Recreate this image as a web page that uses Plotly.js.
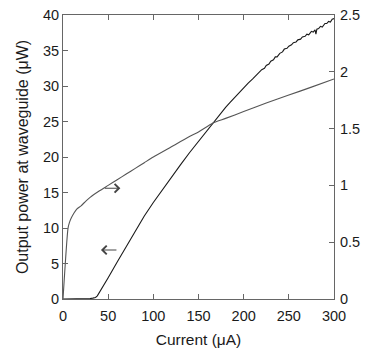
<!DOCTYPE html>
<html><head><meta charset="utf-8">
<script src="https://cdn.plot.ly/plotly-3.0.1.min.js"></script>
<style>html,body{margin:0;padding:0;background:#fff}#chart{width:369px;height:358px}</style>
</head><body><div id="chart"></div>
<script>
// Output power (left axis, µW) vs current (µA)
var powerCurrent = [0,10,20,25,30,33,36,38,40,42,45,50,60,70,80,90,100,110,120,130,140,150,160,170,180,185,190,195,200,205,210,213,215,218,220,223,225,228,230,233,235,237,240,243,245,248,250,253,255,258,260,263,265,268,270,272,275,277,279,280,281,283,285,287,290,292,294,296,298,300];
var powerValues  = [0,0,0,0.02,0.06,0.12,0.22,0.45,0.85,1.25,1.95,3.0,5.2,7.4,9.6,11.7,13.6,15.4,17.2,18.9,20.6,22.2,23.9,25.5,27.0,27.7,28.4,29.1,29.8,30.4,31.0,31.4,31.7,32.0,32.3,32.5,32.9,33.1,33.5,33.7,34.1,34.1,34.6,34.8,35.2,35.3,35.6,35.8,36.1,36.2,36.5,36.6,36.9,37.0,37.3,37.2,37.7,37.6,37.9,37.3,38.0,38.1,38.4,38.3,38.8,38.8,39.1,39.0,39.4,39.5];
// Second curve (right axis)
var rightCurrent = [0,5.5,7,9,12,15,20,25,30,40,50,60,70,80,90,100,120,140,150,166,180,200,225,250,275,300];
var rightValues  = [0,0.62,0.67,0.71,0.755,0.79,0.82,0.86,0.895,0.95,1.0,1.05,1.1,1.15,1.2,1.25,1.34,1.43,1.47,1.55,1.59,1.65,1.725,1.795,1.865,1.937];
var xTicks = [0,50,100,150,200,250,300];
var yLeftTicks = [0,5,10,15,20,25,30,35,40];
var yRightTicks = [0,0.5,1,1.5,2,2.5];

var fam = '"Liberation Sans", Arial, sans-serif';
var tickFnt = {family:fam, size:14.5, color:'#1a1a1a'};
var titleFnt = {family:fam, size:16, color:'#1a1a1a'};
var axBase = {showline:true, linecolor:'#666', linewidth:1, ticks:'inside', ticklen:5, tickcolor:'#666',
  showgrid:false, zeroline:false, tickfont:tickFnt};

var traces = [
  {x:powerCurrent, y:powerValues, type:'scatter', mode:'lines', line:{color:'#1a1a1a', width:1.1}, yaxis:'y'},
  {x:rightCurrent, y:rightValues, type:'scatter', mode:'lines', line:{color:'#555', width:1.1, shape:'spline', smoothing:0.6}, yaxis:'y2'}
];
var layout = {
  width:369, height:358, margin:{l:63, r:35, t:15, b:59},
  paper_bgcolor:'#fff', plot_bgcolor:'#fff', showlegend:false, font:tickFnt,
  xaxis:Object.assign({}, axBase, {range:[0,300], tickvals:xTicks, mirror:'ticks', ticklabelstandoff:4,
    title:{text:'Current (\u03bcA)', font:{family:fam, size:15.5, color:'#1a1a1a'}, standoff:10}}),
  yaxis:Object.assign({}, axBase, {range:[0,40], tickvals:yLeftTicks,
    title:{text:'Output power at waveguide (\u03bcW)', font:titleFnt, standoff:10}}),
  yaxis2:Object.assign({}, axBase, {range:[0,2.5], tickvals:yRightTicks, overlaying:'y', side:'right', ticklabelstandoff:2}),
  annotations:[
    {x:63.5, y:15.6, xref:'x', yref:'y', ax:-17, ay:0, showarrow:true, arrowhead:4, arrowsize:1.7, arrowwidth:1, arrowcolor:'#444', text:''},
    {x:42.0, y:6.9, xref:'x', yref:'y', ax:17, ay:0, showarrow:true, arrowhead:4, arrowsize:1.7, arrowwidth:1, arrowcolor:'#444', text:''}
  ]
};
Plotly.newPlot('chart', traces, layout, {staticPlot:true, displayModeBar:false});
</script></body></html>
